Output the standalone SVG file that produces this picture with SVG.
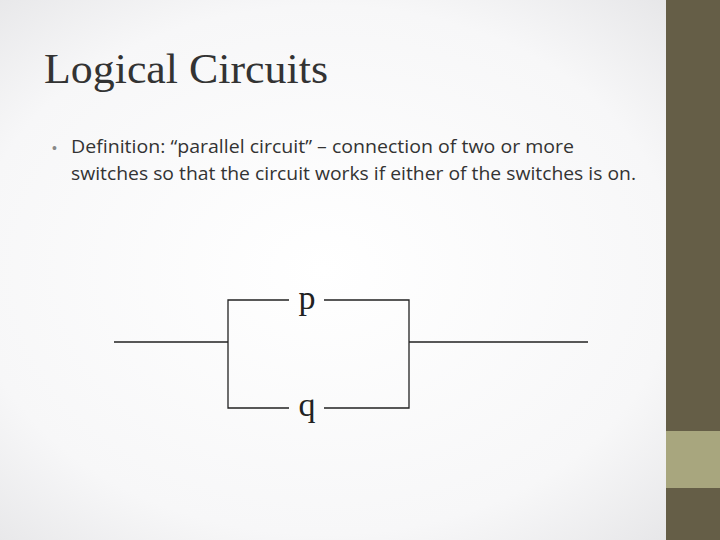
<svg xmlns="http://www.w3.org/2000/svg" width="720" height="540" viewBox="0 0 720 540">
<defs>
<radialGradient id="bg" cx="0.45" cy="0.5" r="0.7">
<stop offset="0" stop-color="#ffffff"/><stop offset="0.7" stop-color="#f7f7f8"/><stop offset="1" stop-color="#e6e6e8"/>
</radialGradient>
<style>
.w{stroke:#222;stroke-width:1.3;fill:none}
.lbl{font-family:"Liberation Serif",serif;font-size:34px;fill:#222;text-anchor:middle}
.body{font-family:"Open Sans","Liberation Sans",sans-serif;font-size:18px;fill:#333}
</style>
</defs>
<rect width="720" height="540" fill="url(#bg)"/>
<rect x="666" y="0" width="54" height="540" fill="#655e47"/>
<rect x="666" y="431" width="54" height="57" fill="#a8a67e"/>
<text x="44" y="83" font-family="Liberation Serif,serif" font-size="43" fill="#333" textLength="284" lengthAdjust="spacingAndGlyphs">Logical Circuits</text>
<text x="52" y="153" font-family="Liberation Sans,sans-serif" font-size="14" fill="#888">•</text>
<text class="body" x="71" y="153" textLength="503" lengthAdjust="spacingAndGlyphs">Definition: “parallel circuit” – connection of two or more</text>
<text class="body" x="71" y="180" textLength="565" lengthAdjust="spacingAndGlyphs">switches so that the circuit works if either of the switches is on.</text>
<g id="connectors">
<path class="w" d="M114 342H228M289 300H228V408H289M324 300H409V408H324M409 342H588"/>
</g>
<g id="p"><text class="lbl" x="307" y="309">p</text></g>
<g id="q"><text class="lbl" x="307" y="416">q</text></g>
</svg>
